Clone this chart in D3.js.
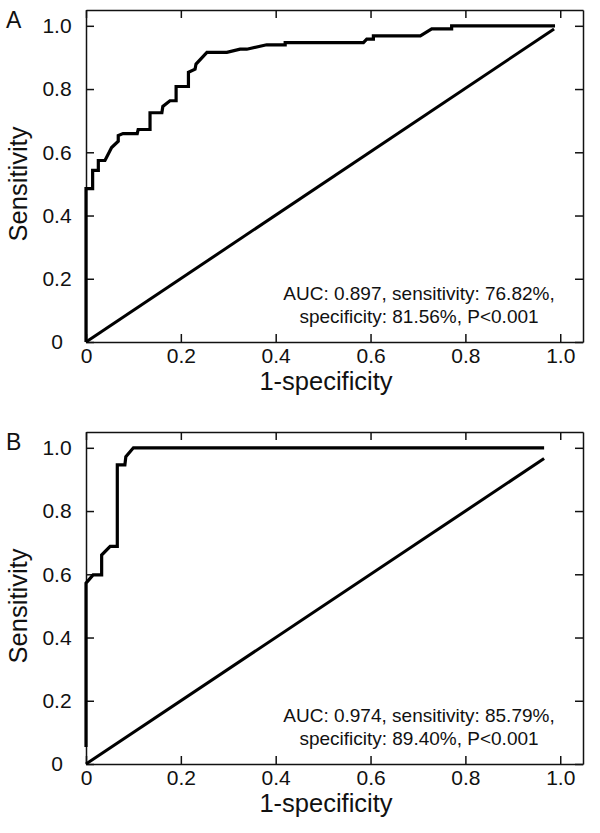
<!DOCTYPE html>
<html>
<head>
<meta charset="utf-8">
<script src="https://cdn.jsdelivr.net/npm/d3@7"></script>
<style>
  html, body { margin: 0; padding: 0; background: #fff; }
  svg { display: block; font-family: "Liberation Sans", Arial, sans-serif; }
</style>
</head>
<body>
<svg id="chart" width="600" height="833"></svg>
<script>
// ---- Data ----
const tickValues = [0, 0.2, 0.4, 0.6, 0.8, 1.0];
const tickLabels = ["0", "0.2", "0.4", "0.6", "0.8", "1.0"];

// Panel A ROC curve (1-specificity, sensitivity)
const fprA = [0, 0, 0.014, 0.014, 0.026, 0.026, 0.040, 0.054, 0.068, 0.068, 0.078, 0.108, 0.110, 0.135, 0.135, 0.160, 0.162, 0.177, 0.190, 0.190, 0.216, 0.216, 0.230, 0.232, 0.255, 0.297, 0.325, 0.339, 0.381, 0.420, 0.420, 0.585, 0.592, 0.606, 0.606, 0.705, 0.729, 0.771, 0.771, 0.989];
const tprA = [0, 0.485, 0.485, 0.543, 0.543, 0.574, 0.574, 0.615, 0.635, 0.653, 0.659, 0.659, 0.672, 0.672, 0.725, 0.725, 0.745, 0.763, 0.763, 0.808, 0.808, 0.853, 0.863, 0.879, 0.916, 0.916, 0.926, 0.926, 0.940, 0.940, 0.947, 0.947, 0.958, 0.958, 0.968, 0.968, 0.990, 0.990, 1.0, 1.0];
const diagAx = [0, 0.987];
const diagAy = [0, 0.990];
const noteA = ["AUC: 0.897, sensitivity: 76.82%,", "specificity: 81.56%, P<0.001"];

// Panel B ROC curve
const fprB = [0, 0, 0.015, 0.033, 0.033, 0.051, 0.066, 0.066, 0.082, 0.084, 0.100, 0.966];
const tprB = [0.054, 0.572, 0.598, 0.598, 0.661, 0.688, 0.688, 0.946, 0.946, 0.972, 1.0, 1.0];
const diagBx = [0, 0.966];
const diagBy = [0, 0.966];
const noteB = ["AUC: 0.974, sensitivity: 85.79%,", "specificity: 89.40%, P<0.001"];

const panels = [
  { letter: "A", top: 10, bottom: 342, fpr: fprA, tpr: tprA, dx: diagAx, dy: diagAy, note: noteA },
  { letter: "B", top: 432, bottom: 764, fpr: fprB, tpr: tprB, dx: diagBx, dy: diagBy, note: noteB }
];

const svg = d3.select("#chart");
const left = 86, right = 583;
const xMax = 1.048;

panels.forEach(p => {
  const x = d3.scaleLinear().domain([0, xMax]).range([left, right]);
  const yMax = 1.05;
  const y = d3.scaleLinear().domain([0, yMax]).range([p.bottom, p.top]);
  const g = svg.append("g");
  const fmt = (d) => tickLabels[tickValues.indexOf(d)];

  const axisStyle = sel => {
    sel.selectAll(".domain").attr("stroke", "#111").attr("stroke-width", 1.5);
    sel.selectAll(".tick line").attr("stroke", "#111").attr("stroke-width", 1.5);
  };

  // bottom
  const gb = g.append("g").attr("transform", `translate(0,${p.bottom})`)
    .call(d3.axisBottom(x).tickValues(tickValues).tickFormat(fmt).tickSize(-8).tickSizeOuter(0).tickPadding(6));
  axisStyle(gb);
  gb.selectAll(".tick text").attr("font-size", 21).attr("fill", "#111")
    .attr("font-family", "Liberation Sans, Arial, sans-serif");
  // top
  const gt = g.append("g").attr("transform", `translate(0,${p.top})`)
    .call(d3.axisTop(x).tickValues(tickValues).tickFormat("").tickSize(-8).tickSizeOuter(0));
  axisStyle(gt);
  // left
  const gl = g.append("g").attr("transform", `translate(${left},0)`)
    .call(d3.axisLeft(y).tickValues(tickValues).tickFormat(fmt).tickSize(-8).tickSizeOuter(0));
  axisStyle(gl);
  gl.selectAll(".tick text").attr("font-size", 21).attr("fill", "#111")
    .attr("x", -29).attr("text-anchor", "middle")
    .attr("font-family", "Liberation Sans, Arial, sans-serif");
  // right
  const gr = g.append("g").attr("transform", `translate(${right},0)`)
    .call(d3.axisRight(y).tickValues(tickValues).tickFormat("").tickSize(-8).tickSizeOuter(0));
  axisStyle(gr);

  // diagonal reference
  const line = d3.line().x(d => x(d[0])).y(d => y(d[1]));
  g.append("path")
    .datum(p.dx.map((v, i) => [v, p.dy[i]]))
    .attr("d", line).attr("fill", "none").attr("stroke", "#000").attr("stroke-width", 3);
  // ROC curve
  g.append("path")
    .datum(p.fpr.map((v, i) => [v, p.tpr[i]]))
    .attr("d", line).attr("fill", "none").attr("stroke", "#000").attr("stroke-width", 3.2)
    .attr("stroke-linejoin", "miter");

  // annotation
  p.note.forEach((t, i) => {
    g.append("text").attr("x", 419).attr("y", p.bottom - 42 + i * 23)
      .attr("text-anchor", "middle").attr("font-size", 19).attr("fill", "#111").text(t);
  });

  // axis titles
  g.append("text").attr("x", 326).attr("y", p.bottom + 48)
    .attr("text-anchor", "middle").attr("font-size", 25.5).attr("fill", "#111").text("1-specificity");
  const cy = (p.top + p.bottom) / 2 + 8;
  g.append("text").attr("transform", `translate(27,${cy}) rotate(-90)`)
    .attr("text-anchor", "middle").attr("font-size", 25.5).attr("fill", "#111").text("Sensitivity");

  // panel letter
  g.append("text").attr("x", 6).attr("y", p.top + 18)
    .attr("font-size", 23).attr("fill", "#111").text(p.letter);
});
</script>
</body>
</html>
